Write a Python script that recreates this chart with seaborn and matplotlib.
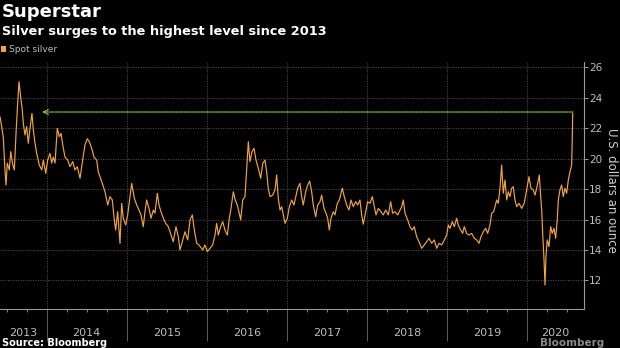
import matplotlib
matplotlib.use("Agg")
import matplotlib.pyplot as plt
import seaborn as sns
import pandas as pd
import numpy as np
from matplotlib.patches import Patch
from matplotlib.ticker import FixedLocator, NullFormatter

# ---- data (decimal year, USD per ounce) ----
years = [
    2013.417, 2013.438, 2013.458, 2013.479, 2013.492, 2013.508, 2013.533, 2013.551, 2013.576, 2013.596,
    2013.617, 2013.633, 2013.654, 2013.675, 2013.695, 2013.708, 2013.729, 2013.750, 2013.770, 2013.792,
    2013.816, 2013.833, 2013.854, 2013.875, 2013.908, 2013.938, 2013.958, 2013.988, 2014.012, 2014.041,
    2014.062, 2014.082, 2014.104, 2014.132, 2014.157, 2014.179, 2014.200, 2014.228, 2014.262, 2014.291,
    2014.325, 2014.353, 2014.382, 2014.416, 2014.449, 2014.478, 2014.507, 2014.532, 2014.562, 2014.590,
    2014.624, 2014.644, 2014.687, 2014.728, 2014.762, 2014.790, 2014.819, 2014.844, 2014.861, 2014.886,
    2014.915, 2014.936, 2014.956, 2014.986, 2015.011, 2015.040, 2015.061, 2015.094, 2015.124, 2015.152,
    2015.177, 2015.206, 2015.227, 2015.248, 2015.277, 2015.302, 2015.331, 2015.352, 2015.381, 2015.402,
    2015.427, 2015.456, 2015.486, 2015.518, 2015.552, 2015.580, 2015.614, 2015.643, 2015.664, 2015.693,
    2015.727, 2015.760, 2015.789, 2015.818, 2015.843, 2015.873, 2015.901, 2015.948, 2015.976, 2016.005,
    2016.039, 2016.072, 2016.101, 2016.122, 2016.142, 2016.172, 2016.197, 2016.226, 2016.255, 2016.280,
    2016.301, 2016.330, 2016.354, 2016.379, 2016.404, 2016.422, 2016.447, 2016.476, 2016.497, 2016.517,
    2016.538, 2016.563, 2016.588, 2016.613, 2016.642, 2016.672, 2016.697, 2016.725, 2016.746, 2016.766,
    2016.788, 2016.821, 2016.850, 2016.871, 2016.891, 2016.913, 2016.934, 2016.954, 2016.975, 2017.004,
    2017.029, 2017.059, 2017.087, 2017.133, 2017.162, 2017.183, 2017.203, 2017.233, 2017.258, 2017.283,
    2017.308, 2017.328, 2017.358, 2017.383, 2017.412, 2017.433, 2017.462, 2017.487, 2017.508, 2017.528,
    2017.549, 2017.578, 2017.599, 2017.628, 2017.653, 2017.690, 2017.715, 2017.745, 2017.774, 2017.799,
    2017.828, 2017.858, 2017.883, 2017.911, 2017.932, 2017.952, 2017.982, 2018.007, 2018.036, 2018.065,
    2018.090, 2018.111, 2018.140, 2018.173, 2018.202, 2018.232, 2018.265, 2018.294, 2018.319, 2018.348,
    2018.382, 2018.411, 2018.432, 2018.452, 2018.473, 2018.507, 2018.535, 2018.564, 2018.589, 2018.619,
    2018.648, 2018.682, 2018.714, 2018.744, 2018.773, 2018.806, 2018.839, 2018.869, 2018.898, 2018.931,
    2018.964, 2018.994, 2019.014, 2019.035, 2019.064, 2019.089, 2019.118, 2019.138, 2019.168, 2019.193,
    2019.213, 2019.243, 2019.272, 2019.306, 2019.338, 2019.368, 2019.397, 2019.422, 2019.451, 2019.480,
    2019.505, 2019.534, 2019.555, 2019.580, 2019.618, 2019.638, 2019.659, 2019.680, 2019.700, 2019.722,
    2019.743, 2019.763, 2019.784, 2019.805, 2019.825, 2019.846, 2019.868, 2019.896, 2019.930, 2019.962,
    2019.992, 2020.021, 2020.046, 2020.075, 2020.096, 2020.117, 2020.137, 2020.150, 2020.167, 2020.180,
    2020.192, 2020.209, 2020.221, 2020.233, 2020.249, 2020.271, 2020.292, 2020.312, 2020.333, 2020.354,
    2020.374, 2020.387, 2020.408, 2020.429, 2020.449, 2020.470, 2020.492, 2020.512, 2020.533, 2020.554,
    2020.561, 2020.567,
]
prices = [
    22.74, 22.10, 21.40, 19.25, 18.26, 19.70, 19.25, 20.45, 19.60, 19.25,
    21.65, 23.20, 25.04, 24.05, 23.20, 22.30, 21.54, 22.10, 21.00, 22.00,
    22.96, 21.87, 21.00, 20.34, 19.57, 19.25, 19.90, 19.03, 19.90, 20.34,
    19.70, 20.10, 19.70, 21.98, 21.43, 21.65, 20.90, 20.10, 19.90, 19.46,
    19.80, 19.25, 19.46, 18.70, 19.90, 20.90, 21.30, 21.10, 20.67, 20.10,
    19.90, 19.13, 18.48, 17.82, 16.95, 17.50, 17.28, 15.97, 15.31, 16.51,
    14.44, 17.06, 16.08, 15.64, 16.30, 17.50, 18.37, 17.39, 16.95, 16.62,
    16.30, 15.53, 16.51, 17.28, 16.73, 16.08, 16.62, 16.41, 17.72, 16.95,
    16.51, 16.08, 15.75, 15.53, 14.98, 14.54, 15.53, 14.87, 14.00, 14.54,
    15.20, 14.66, 15.97, 16.30, 15.31, 14.44, 14.33, 14.00, 14.33, 13.89,
    14.11, 14.33, 14.98, 15.75, 14.98, 15.53, 15.86, 15.31, 14.98, 16.08,
    16.73, 17.82, 17.28, 16.95, 16.41, 15.97, 17.28, 17.50, 19.36, 21.10,
    19.79, 20.45, 20.67, 19.90, 19.36, 18.70, 19.68, 19.90, 19.13, 18.05,
    17.50, 17.60, 17.94, 18.92, 17.39, 16.62, 16.84, 16.30, 15.75, 16.08,
    16.84, 17.28, 16.95, 18.05, 18.37, 17.50, 16.95, 17.82, 18.26, 18.52,
    17.82, 16.95, 16.18, 16.95, 17.17, 17.60, 16.73, 16.41, 16.08, 15.31,
    16.08, 16.51, 16.30, 17.06, 17.28, 18.05, 17.50, 16.95, 16.62, 17.28,
    16.84, 17.17, 16.95, 17.28, 16.30, 15.69, 16.51, 17.17, 17.06, 17.50,
    16.84, 16.30, 16.73, 16.51, 16.30, 16.62, 16.30, 17.17, 16.41, 16.51,
    16.30, 16.62, 16.84, 17.28, 16.41, 15.97, 15.53, 15.31, 15.53, 14.87,
    14.54, 14.11, 14.33, 14.54, 14.77, 14.44, 14.66, 14.11, 14.44, 14.33,
    14.66, 14.98, 15.64, 15.42, 15.86, 15.53, 16.08, 15.64, 15.31, 15.09,
    15.53, 15.09, 14.98, 15.09, 14.77, 14.66, 14.44, 14.87, 15.20, 15.42,
    15.09, 15.64, 16.41, 16.51, 17.28, 17.06, 18.05, 19.57, 17.72, 18.59,
    17.28, 17.82, 17.50, 18.05, 18.15, 17.28, 16.84, 17.06, 16.73, 17.06,
    17.94, 18.81, 18.05, 17.94, 17.60, 18.05, 18.59, 18.92, 17.50, 16.62,
    15.09, 13.34, 11.70, 13.56, 14.66, 14.22, 15.53, 15.09, 15.42, 14.77,
    15.97, 17.28, 17.94, 18.26, 17.50, 18.05, 17.72, 18.59, 19.13, 19.57,
    21.20, 22.96,
]
year_labels = ["2013", "2014", "2015", "2016", "2017", "2018", "2019", "2020"]
y_ticks = [12, 14, 16, 18, 20, 22, 24, 26]
arrow_from_year = 2020.567
arrow_to_year = 2013.94
arrow_level = 23.05

title = "Superstar"
subtitle = "Silver surges to the highest level since 2013"
series_name = "Spot silver"
y_title = "U.S. dollars an ounce"
source = "Source: Bloomberg"

# ---- style ----
sns.set_theme(style="dark")
plt.rcParams["font.family"] = ["DejaVu Sans"]
BG = "#000000"
ORANGE = "#f2a43f"
GREEN = "#86d14a"
GRID = "#4f4f4f"
TICK = "#bdbdbd"

df = pd.DataFrame({"year": years, "price": prices})

W, H = 620, 348
fig = plt.figure(figsize=(W / 100, H / 100), dpi=100, facecolor=BG)
ax_left, ax_right, ax_top, ax_bottom = 0, 584, 61.7, 309
ax = fig.add_axes([ax_left / W, 1 - ax_bottom / H, (ax_right - ax_left) / W, (ax_bottom - ax_top) / H])
ax.set_facecolor(BG)

x0, x1 = 2013.417, 2020.708
ax.set_xlim(x0, x1)
ax.set_ylim(10.13, 26.35)

# grid
for yv in y_ticks:
    ax.axhline(yv, color=GRID, lw=0.6, ls=(0, (1.5, 1.5)), zorder=0)
for yr in range(2014, 2021):
    ax.axvline(yr, color=GRID, lw=0.6, ls=(0, (1.5, 1.5)), zorder=0)

sns.lineplot(data=df, x="year", y="price", ax=ax, color=ORANGE, lw=0.85, legend=False, zorder=3)

# arrow
ax.annotate("", xy=(arrow_to_year, arrow_level), xytext=(arrow_from_year, arrow_level),
            arrowprops=dict(arrowstyle="->", color=GREEN, lw=0.9, ls=(0, (1, 1)),
                            shrinkA=0, shrinkB=0, mutation_scale=9), zorder=4)

# spines
for s in ["top", "left"]:
    ax.spines[s].set_visible(False)
for s in ["right", "bottom"]:
    ax.spines[s].set_visible(True)
    ax.spines[s].set_color("#9a9a9a")
    ax.spines[s].set_linewidth(0.8)

# y axis on right
ax.yaxis.tick_right()
ax.set_yticks(y_ticks)
ax.set_yticklabels([str(v) for v in y_ticks])
ax.yaxis.set_minor_locator(FixedLocator([v + 1 for v in range(11, 26, 2)]))
ax.tick_params(axis="y", which="major", right=True, length=3, width=0.7, color="#9a9a9a",
               labelsize=7.5, labelcolor=TICK, pad=0.8)
ax.tick_params(axis="y", which="minor", right=True, length=2, width=0.6, color="#9a9a9a")
ax.set_ylabel("")
fig.text(612 / W, 1 - 190 / H, y_title, rotation=270, color="#cfcfcf", fontsize=8.5,
         ha="center", va="center")

# x axis: long major ticks at year boundaries, short minor at quarters
ax.set_xticks(list(range(2014, 2021)))
ax.xaxis.set_major_formatter(NullFormatter())
quarters = [y + q / 4 for y in range(2013, 2021) for q in (1, 2, 3) if x0 < y + q / 4 < x1]
ax.xaxis.set_minor_locator(FixedLocator(quarters))
ax.tick_params(axis="x", which="major", bottom=True, length=23, width=0.6, color="#6a6a6a")
ax.tick_params(axis="x", which="minor", bottom=True, length=2, width=0.6, color="#9a9a9a")
ax.set_xlabel("")

trans = ax.get_xaxis_transform()
for i, lab in enumerate(year_labels):
    yr = 2013 + i
    lo, hi = max(yr, x0), min(yr + 1, x1)
    ax.text((lo + hi) / 2, -0.099, lab, transform=trans, ha="center", va="center",
            fontsize=8, color=TICK)

# titles
fig.text(2 / W, 1 - 12 / H, title, fontsize=13, fontweight="bold", color="white", va="center", ha="left")
fig.text(2 / W, 1 - 32 / H, subtitle, fontsize=9.3, fontweight="bold", color="white", va="center", ha="left")
fig.legend(handles=[Patch(facecolor=ORANGE, edgecolor="none", label=series_name)],
           loc="center left", bbox_to_anchor=(1 / W, 1 - 50 / H), frameon=False,
           handlelength=0.6, handleheight=0.6, handletextpad=0.3, borderaxespad=0, borderpad=0,
           fontsize=6.5, labelcolor="#bdbdbd")
fig.text(2 / W, 1 - 343 / H, source, fontsize=7, fontweight="bold", color="white", va="center", ha="left")
fig.text(604 / W, 1 - 343 / H, "Bloomberg", fontsize=7.5, fontweight="bold", color="#8a8a8a",
         va="center", ha="right")

fig.savefig("out.png", dpi=100, facecolor=BG)
